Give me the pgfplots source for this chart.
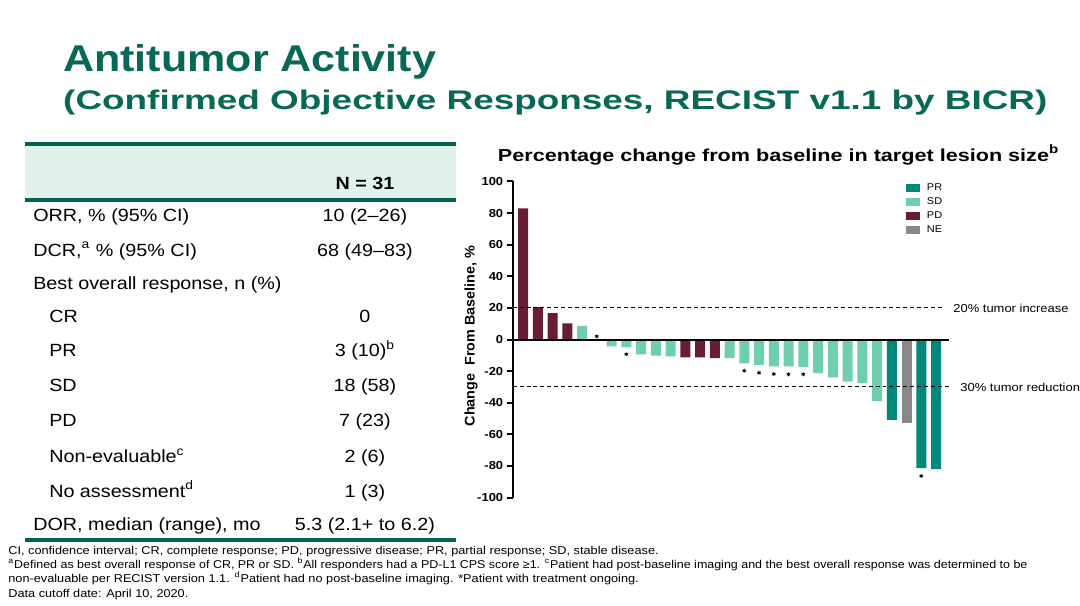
\documentclass[border=0pt]{standalone}
\usepackage{pgfplots}
\pgfplotsset{compat=1.18}
\usepackage{fontspec}
\setmainfont[FakeStretch=1.12]{Liberation Sans}
\usepackage{graphicx}
\definecolor{titlegreen}{RGB}{8,104,86}
\definecolor{rulegreen}{RGB}{0,100,82}
\definecolor{headfill}{RGB}{224,242,234}
\definecolor{cPR}{RGB}{0,137,123}
\definecolor{cSD}{RGB}{112,206,176}
\definecolor{cPD}{RGB}{104,28,56}
\definecolor{cNE}{RGB}{136,136,136}
\newcommand{\fs}[1]{\fontsize{#1}{#1}\selectfont}
\newcommand{\trow}[4]{\node[anchor=base west, inner sep=0] at (#2,#1) {\fs{8.85}#3};
  \node[anchor=base, inner sep=0] at (366,#1) {\fs{8.85}#4};}
\pgfplotsset{mybar/.style={ybar, bar width=5pt, bar shift=0pt, draw=none, fill=#1,
  legend image code/.code={\fill[fill=#1] (0pt,-2pt) rectangle (7pt,2pt);}}}
\begin{document}
\begin{tikzpicture}
\begin{scope}[x=0.5pt,y=-0.5pt]
\path[use as bounding box] (0,0) rectangle (1080,607);
% titles
\node[anchor=base west, inner sep=0, text=titlegreen] at (63,72) {\resizebox{187pt}{\height}{\fs{18.7}\bfseries Antitumor Activity}};
\node[anchor=base west, inner sep=0, text=titlegreen] at (63,110) {\resizebox{493.5pt}{\height}{\fs{13.5}\bfseries (Confirmed Objective Responses, RECIST v1.1 by BICR)}};
% table
\fill[headfill] (25,144) rectangle (457,200);
\draw[rulegreen, line width=2pt] (25,144) -- (457,144);
\draw[rulegreen, line width=2pt] (25,200.5) -- (457,200.5);
\draw[rulegreen, line width=2pt] (25,542) -- (457,542);
\node[anchor=base, inner sep=0] at (366,190) {\fs{8.85}\bfseries N = 31};
\trow{222}{33}{ORR, \% (95\% CI)}{10 (2--26)}
\trow{257}{33}{DCR,\textsuperscript{a} \% (95\% CI)}{68 (49--83)}
\trow{290}{33}{Best overall response, n (\%)}{}
\trow{323}{49}{CR}{0}
\trow{358}{49}{PR}{3 (10)\textsuperscript{b}}
\trow{393}{49}{SD}{18 (58)}
\trow{428}{49}{PD}{7 (23)}
\trow{464}{49}{Non-evaluable\textsuperscript{c}}{2 (6)}
\trow{499}{49}{No assessment\textsuperscript{d}}{1 (3)}
\trow{532}{33}{DOR, median (range), mo}{5.3 (2.1+ to 6.2)}
% footnotes
\node[anchor=base west, inner sep=0] at (8,556) {\fs{5.7}CI, confidence interval; CR, complete response; PD, progressive disease; PR, partial response; SD, stable disease.};
\node[anchor=base west, inner sep=0] at (8,570) {\resizebox{511pt}{\height}{\fs{5.7}\textsuperscript{a}Defined as best overall response of CR, PR or SD. \textsuperscript{b}All responders had a PD-L1 CPS score ≥1. \textsuperscript{c}Patient had post-baseline imaging and the best overall response was determined to be}};
\node[anchor=base west, inner sep=0] at (8,584) {\fs{5.7}non-evaluable per RECIST version 1.1. \textsuperscript{d}Patient had no post-baseline imaging. *Patient with treatment ongoing.};
\node[anchor=base west, inner sep=0] at (8,599) {\fs{5.7}Data cutoff date: April 10, 2020.};
% chart title and y label
\node[anchor=base west, inner sep=0] at (499,162) {\resizebox{281.5pt}{\height}{\fs{8.7}\bfseries Percentage change from baseline in target lesion size\textsuperscript{b}}};
\node[rotate=90, anchor=base, inner sep=0] at (476,337) {\resizebox{90.5pt}{\height}{\fs{7}\bfseries Change\ \ From Baseline, \%}};
\end{scope}
\begin{axis}[
  at={(257pt,-249.5pt)}, anchor=south west,
  scale only axis, width=219pt, height=158.5pt,
  xmin=-0.71, xmax=28.9, ymin=-100, ymax=100,
  axis y line=left, axis x line=none,
  axis line style={line width=1pt, -},
  ytick={-100,-80,...,100},
  yticklabels={-100,-80,-60,-40,-20,0,20,40,60,80,100},
  tick align=outside, major tick length=3pt,
  every tick/.style={black, line width=1pt},
  yticklabel style={font=\fs{5.8}\bfseries, inner sep=1.5pt},
  xtick=\empty,
  clip=false,
  legend style={draw=none, fill=none, at={(0.9,0.998)}, anchor=north west,
    font=\fs{4.9}, inner sep=0pt, row sep=1.5pt,
    nodes={inner sep=0.5pt, text height=3.5pt, text depth=1pt},
    /tikz/every odd column/.append style={column sep=3pt}},
  legend cell align=left,
]
\addplot[mybar=cPR] coordinates {(25,-50.8) (27,-81.3) (28,-82)};
\addlegendentry{PR}
\addplot[mybar=cSD] coordinates {(4,8.7) (5,0) (6,-4.3) (7,-5) (8,-9.4) (9,-10.2) (10,-10.6)
  (14,-11.7) (15,-15) (16,-16) (17,-17) (18,-17) (19,-17.3) (20,-21.3) (21,-24) (22,-26.6) (23,-27.4) (24,-39)};
\addlegendentry{SD}
\addplot[mybar=cPD] coordinates {(0,83) (1,20.7) (2,16.7) (3,10.2) (11,-11.2) (12,-11.2) (13,-11.7)};
\addlegendentry{PD}
\addplot[mybar=cNE] coordinates {(26,-52.9)};
\addlegendentry{NE}
\addplot[black, line width=1pt, forget plot] coordinates {(-0.71,0) (28.9,0)};
\addplot[black, line width=0.5pt, dash pattern=on 2pt off 1.5pt, forget plot] coordinates {(-0.71,20) (28.6,20)};
\addplot[black, line width=0.5pt, dash pattern=on 2pt off 1.5pt, forget plot] coordinates {(-0.71,-30) (28.9,-30)};
\addplot[only marks, mark=asterisk, mark size=1pt, black, forget plot] coordinates {(5,2) (7,-9.3) (15,-19.7) (16,-21) (17,-21.8) (18,-22) (19,-22) (27,-86.3)};
\node[anchor=west, inner sep=0, font=\fs{5.8}] at (axis cs:29.15,20) {20\% tumor increase};
\node[anchor=west, inner sep=0, font=\fs{5.8}] at (axis cs:29.63,-30) {30\% tumor reduction};
\end{axis}
\end{tikzpicture}
\end{document}
